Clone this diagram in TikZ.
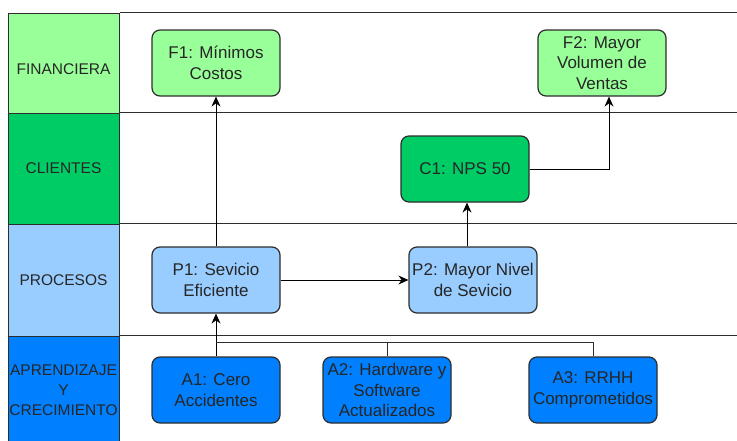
\documentclass[tikz,border=0pt]{standalone}
\usepackage{fontspec}
\setmainfont{Liberation Sans}
\usetikzlibrary{arrows.meta, positioning}

\definecolor{finverde}{RGB}{153,255,153}
\definecolor{cliverde}{RGB}{0,204,102}
\definecolor{proazul}{RGB}{153,204,255}
\definecolor{apazul}{RGB}{0,127,255}
\definecolor{borde}{RGB}{45,45,45}

\tikzset{
  carril/.style={draw=borde, line width=1pt, minimum width=111pt, minimum height=#1, inner sep=0pt, align=center, font=\fontsize{15.5}{20}\selectfont, text=black!85},
  objetivo/.style={draw=borde, line width=1.2pt, rounded corners=8pt, minimum width=128pt, minimum height=66pt, inner sep=1pt, align=center, font=\fontsize{17}{20.5}\selectfont, text=black!85},
  linea/.style={draw=borde, line width=1pt},
  conn/.style={-{Stealth[length=10pt,width=9pt]}, line width=1pt, draw=black}
}

\begin{document}
\begin{tikzpicture}[x=1pt, y=-1pt]
\useasboundingbox (0,0) rectangle (737,440);
\fill[white] (0,0) rectangle (737,440);

% carriles
\node[carril=100pt, fill=finverde] (lanF) at (63.5,63) {};
\node[font=\fontsize{15.5}{20}\selectfont, text=black!85] (txtF) at (63.5,69) {FINANCIERA};
\node[carril=111pt, fill=cliverde] (lanC) at (63.5,168.5) {CLIENTES};
\node[carril=112pt, fill=proazul] (lanP) at (63.5,280) {PROCESOS};
\node[carril=108pt, fill=apazul] (lanA) at (63.5,390) {APRENDIZAJE\\Y\\CRECIMIENTO};
\draw[linea] (lanF.north east) -- ++(618,0);
\draw[linea] (lanC.north east) -- ++(618,0);
\draw[linea] (lanP.north east) -- ++(618,0);
\draw[linea] (lanA.north east) -- ++(618,0);

% objetivos
\node[objetivo, fill=finverde] (F1) at (216,63) {F1: Mínimos\\Costos};
\node[objetivo, fill=finverde] (F2) at (602,63) {F2: Mayor\\Volumen de\\Ventas};
\node[objetivo, fill=cliverde] (C1) at (465,169) {C1: NPS 50};
\node[objetivo, fill=proazul] (P1) at (216,280) {P1: Sevicio\\Eficiente};
\node[objetivo, fill=proazul] (P2) at (473,280) {P2: Mayor Nivel\\de Sevicio};
\node[objetivo, fill=apazul] (A1) at (216,390) {A1: Cero\\Accidentes};
\node[objetivo, fill=apazul] (A2) at (387,390) {A2: Hardware y\\Software\\Actualizados};
\node[objetivo, fill=apazul] (A3) at (593,390) {A3: RRHH\\Comprometidos};

\coordinate (bus) at (216,342);
\coordinate (codo) at (609,169);

% conexiones
\draw[conn] (A1.north) -- (P1.south);
\draw[linea] (A2.north) |- (bus);
\draw[linea] (A3.north) |- (bus);
\draw[conn] (P1.north) -- (F1.south);
\draw[conn] (P1.east) -- (P2.west);
\draw[conn] (P2.north -| 467,0) -- (C1.south -| 467,0);
\draw[conn] (C1.east) -- (codo) -- (codo |- F2.south);
\end{tikzpicture}
\end{document}
